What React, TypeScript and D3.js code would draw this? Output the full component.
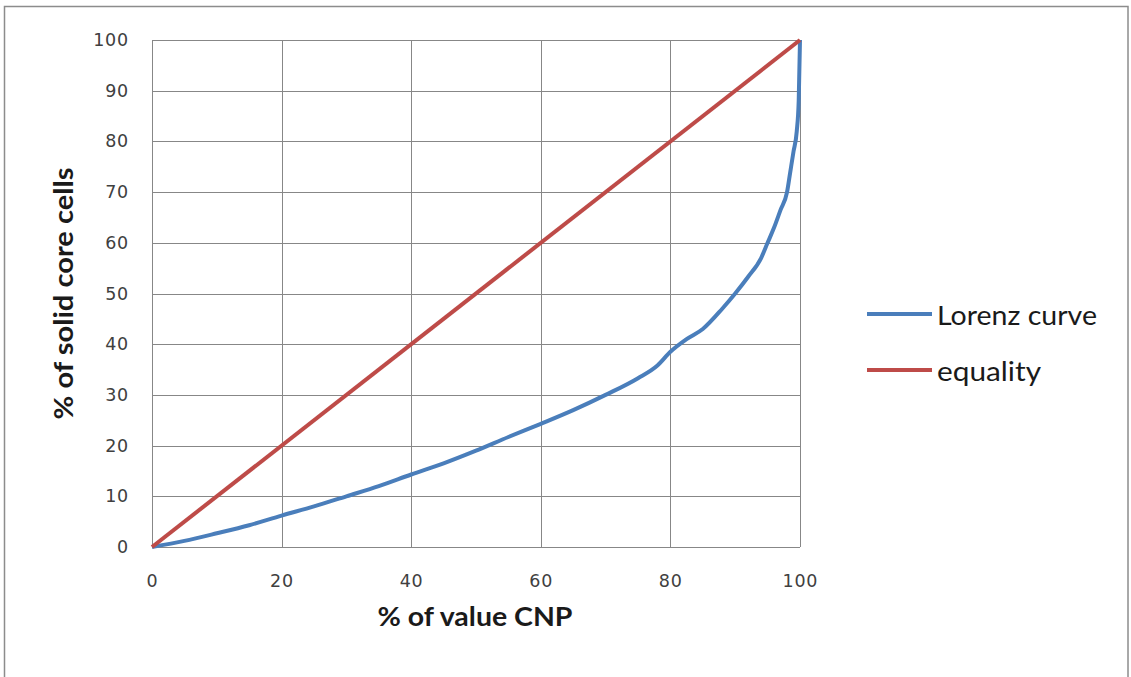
import React from 'react';
import * as d3 from 'd3';

// values
const X_TICKS = [0, 20, 40, 60, 80, 100];
const Y_TICKS = [0, 10, 20, 30, 40, 50, 60, 70, 80, 90, 100];

const LORENZ_X = [0, 5, 10, 15, 20, 25, 30, 35, 40, 45, 50, 55, 60, 65, 70, 75, 78, 80, 82.5, 85, 88, 90, 92, 94, 95, 96, 97, 98, 98.5, 99, 99.5, 99.8, 100];
const LORENZ_Y = [0, 1.2, 2.7, 4.3, 6.2, 8, 10, 12, 14.3, 16.5, 19, 21.7, 24.3, 27, 30, 33.3, 35.8, 38.5, 41, 43, 47, 50, 53.3, 57, 60, 63, 66.5, 70, 74, 78, 82, 88, 100];

const EQUALITY_X = [0, 100];
const EQUALITY_Y = [0, 100];

const SERIES = [
  { name: 'Lorenz curve', xs: LORENZ_X, ys: LORENZ_Y, color: '#4a7ebb', textLen: 160 },
  { name: 'equality', xs: EQUALITY_X, ys: EQUALITY_Y, color: '#be4b48', textLen: 104 },
];

const W = 1131;
const H = 677;
const plot = { left: 152, right: 800, top: 40, bottom: 547 };

const App: React.FC = () => {
  const x = d3.scaleLinear().domain([0, 100]).range([plot.left, plot.right]);
  const y = d3.scaleLinear().domain([0, 100]).range([plot.bottom, plot.top]);

  const line = d3
    .line<[number, number]>()
    .x(d => x(d[0]))
    .y(d => y(d[1]))
    .curve(d3.curveMonotoneX);

  const tickFont = '"DejaVu Sans", Verdana, sans-serif';
  const labelFont = 'Lato, "Open Sans", sans-serif';

  return (
    <svg
      width={W}
      height={H}
      style={{ position: 'absolute', left: 0, top: 0, background: '#fff' }}
    >
      {/* outer chart frame */}
      <rect x={4.5} y={6.5} width={1123.5} height={700} fill="#fff" stroke="#8c8c8c" strokeWidth={1.5} />

      {/* grid */}
      <g stroke="#878787" strokeWidth={1}>
        {Y_TICKS.map(t => (
          <line key={'h' + t} x1={plot.left} x2={plot.right} y1={Math.round(y(t)) + 0.5} y2={Math.round(y(t)) + 0.5} />
        ))}
        {X_TICKS.map(t => (
          <line key={'v' + t} x1={Math.round(x(t)) + 0.5} x2={Math.round(x(t)) + 0.5} y1={plot.top} y2={plot.bottom} />
        ))}
      </g>

      {/* tick labels */}
      <g fontFamily={tickFont} fontSize={17.5} fill="#404040" letterSpacing={0.8}>
        {Y_TICKS.map(t => (
          <text key={'yl' + t} x={129} y={y(t)} textAnchor="end" dominantBaseline="central">
            {t}
          </text>
        ))}
        {X_TICKS.map(t => (
          <text key={'xl' + t} x={x(t) + 0.4} y={581} textAnchor="middle" dominantBaseline="central">
            {t}
          </text>
        ))}
      </g>

      {/* axis titles */}
      <text
        x={475}
        y={626}
        textAnchor="middle"
        fontFamily={labelFont}
        fontWeight="bold"
        fontSize={27.5}
        fill="#1a1a1a"
        textLength={195}
        lengthAdjust="spacingAndGlyphs"
      >
        % of value CNP
      </text>
      <text
        transform={`translate(73,${(plot.top + plot.bottom) / 2}) rotate(-90)`}
        textAnchor="middle"
        fontFamily={labelFont}
        fontWeight="bold"
        fontSize={27.5}
        fill="#1a1a1a"
        textLength={252}
        lengthAdjust="spacingAndGlyphs"
      >
        % of solid core cells
      </text>

      {/* series */}
      {SERIES.map(s => (
        <path
          key={s.name}
          d={line(s.xs.map((v, i) => [v, s.ys[i]] as [number, number])) || ''}
          fill="none"
          stroke={s.color}
          strokeWidth={4}
          strokeLinejoin="round"
        />
      ))}

      {/* legend */}
      {SERIES.map((s, i) => (
        <g key={'lg' + s.name} transform={`translate(867,${314 + i * 56})`}>
          <line x1={0} x2={65} y1={0} y2={0} stroke={s.color} strokeWidth={4} />
          <text
            x={70}
            y={11}
            fontFamily={labelFont}
            fontSize={27.5}
            fill="#1a1a1a"
            textLength={s.textLen}
            lengthAdjust="spacingAndGlyphs"
          >
            {s.name}
          </text>
        </g>
      ))}
    </svg>
  );
};

export default App;
